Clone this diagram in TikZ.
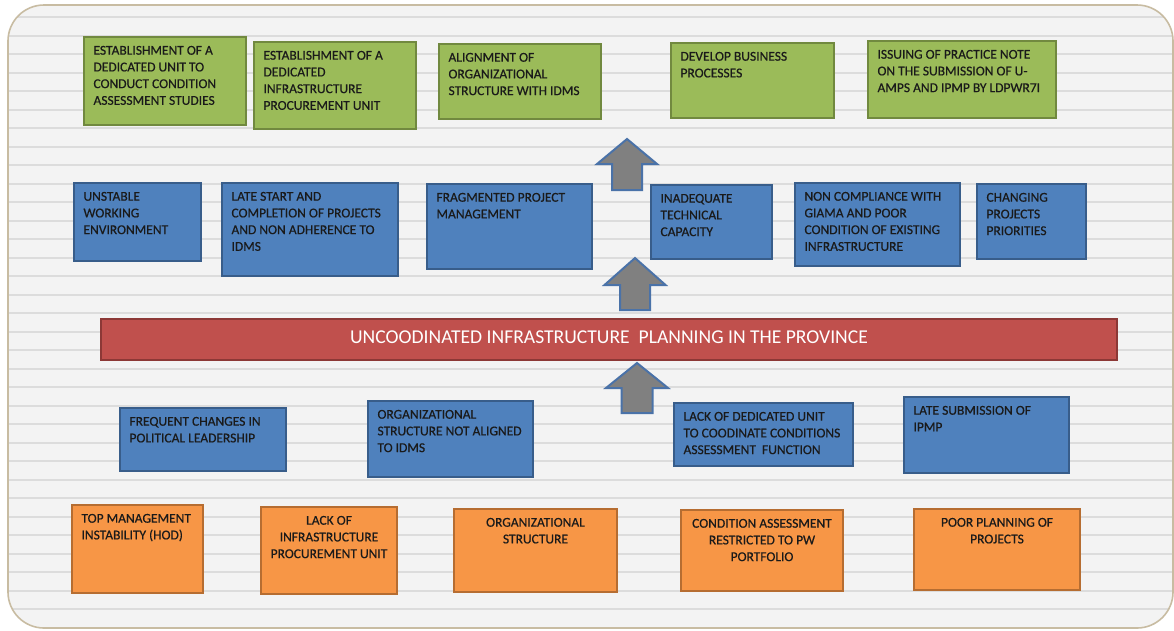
\documentclass[tikz,border=0pt]{standalone}
\usepackage{fontspec}
\setmainfont{Carlito}
\newfontfamily\cellfont{Carlito}[FakeBold=0.5]
\begin{document}
\definecolor{gfill}{HTML}{9BBB59}\definecolor{gline}{HTML}{71893F}
\definecolor{bfill}{HTML}{4F81BD}\definecolor{bline}{HTML}{385D8A}
\definecolor{ofill}{HTML}{F79646}\definecolor{oline}{HTML}{B66D31}
\definecolor{rfill}{HTML}{C0504D}\definecolor{rline}{HTML}{8C3836}
\definecolor{afill}{HTML}{808080}\definecolor{aline}{HTML}{4A72A8}
\definecolor{panel}{HTML}{F3F3F3}\definecolor{stripe}{HTML}{DCDCDC}
\definecolor{frame}{HTML}{C8BCA2}\definecolor{ink}{HTML}{1A1A1A}
\tikzset{
  cell/.style={draw, line width=2pt, inner sep=0pt, anchor=north west,
    font=\cellfont\fontsize{13.5}{16.7}\selectfont, text=ink},
  greenbox/.style={cell, fill=gfill, draw=gline},
  bluebox/.style={cell, fill=bfill, draw=bline},
  orangebox/.style={cell, fill=ofill, draw=oline},
  redbar/.style={draw=rline, fill=rfill, line width=2pt, inner sep=0pt,
    anchor=north west},
  bartext/.style={text=white, font=\fontsize{19.6}{22}\selectfont,
    anchor=base, inner sep=0pt},
  blockarrow/.style={draw=aline, fill=afill, line width=2pt, line join=miter},
  stripeline/.style={draw=stripe, line width=1.8pt},
}
% box with its text set from the top left corner; #1 name, #2 style,
% #3..#6 corners in pixels, #7 text
\newcommand{\cellbox}[7]{%
  \pgfmathsetmacro{\cellw}{#5-#3}%
  \pgfmathsetmacro{\cellh}{#6-#4}%
  \node[#2] (#1) at (#3,#4) {\parbox[c][\cellh pt][t]{\cellw pt}{%
      \raggedright\leftskip=9.5pt\rightskip=0pt plus 1fil\vspace*{6pt}\strut#7}};}
% upward block arrow: centre x, tip y, head base y, head half width,
% shaft half width, bottom y
\newcommand{\uparrowblock}[6]{%
  \draw[blockarrow] (#1,#2) -- (#1+#4,#3) -- (#1+#5,#3) -- (#1+#5,#6)
    -- (#1-#5,#6) -- (#1-#5,#3) -- (#1-#4,#3) -- cycle;}
\begin{tikzpicture}[x=1pt,y=-1pt]
\useasboundingbox (0,0) rectangle (1174,630);
\fill[white] (0,0) rectangle (1174,630);

% striped panel
\begin{scope}
  \clip[rounded corners=36pt] (8,5) rectangle (1173,628);
  \fill[panel] (0,0) rectangle (1174,630);
  \foreach \k in {0,...,32}
    \draw[stripeline] (0,17.3+18.5*\k) -- (1174,17.3+18.5*\k);
\end{scope}
\draw[frame, line width=1.6pt, rounded corners=36pt] (8,5) rectangle (1173,628);

% actions
\cellbox{g1}{greenbox}{83}{36}{245}{124}{ESTABLISHMENT OF A\\DEDICATED UNIT TO\\CONDUCT CONDITION\\ASSESSMENT STUDIES}
\cellbox{g2}{greenbox}{253}{41}{415}{128}{ESTABLISHMENT OF A\\DEDICATED\\INFRASTRUCTURE\\PROCUREMENT UNIT}
\cellbox{g3}{greenbox}{438}{43}{600}{118}{ALIGNMENT OF\\ORGANIZATIONAL\\STRUCTURE WITH IDMS}
\cellbox{g4}{greenbox}{670}{42}{833}{117}{DEVELOP BUSINESS\\PROCESSES}
\cellbox{g5}{greenbox}{867}{40}{1055}{117}{ISSUING OF PRACTICE NOTE\\ON THE SUBMISSION OF U-\\AMPS AND IPMP BY LDPWR7I}

% effects
\cellbox{e1}{bluebox}{73}{182}{200}{260}{UNSTABLE\\WORKING\\ENVIRONMENT}
\cellbox{e2}{bluebox}{221}{182}{397}{275}{LATE START AND\\COMPLETION OF PROJECTS\\AND NON ADHERENCE TO\\IDMS}
\cellbox{e3}{bluebox}{426}{183}{591}{268}{FRAGMENTED PROJECT\\MANAGEMENT}
\cellbox{e4}{bluebox}{650}{184}{771}{258}{INADEQUATE\\TECHNICAL\\CAPACITY}
\cellbox{e5}{bluebox}{794}{182}{959}{265}{NON COMPLIANCE WITH\\GIAMA AND POOR\\CONDITION OF EXISTING\\INFRASTRUCTURE}
\cellbox{e6}{bluebox}{976}{183}{1085}{258}{CHANGING\\PROJECTS\\PRIORITIES}

% core problem
\node[redbar, minimum width=1016pt, minimum height=41pt] (core) at (100,318) {};
\node[bartext] (coretext) at ([yshift=-3.5pt]core.center)
  {UNCOODINATED INFRASTRUCTURE\ \ PLANNING IN THE PROVINCE};

% causes
\cellbox{c1}{bluebox}{119}{407}{285}{470}{FREQUENT CHANGES IN\\POLITICAL LEADERSHIP}
\cellbox{c2}{bluebox}{367}{400}{532}{476}{ORGANIZATIONAL\\STRUCTURE NOT ALIGNED\\TO IDMS}
\cellbox{c3}{bluebox}{673}{402}{852}{465}{LACK OF DEDICATED UNIT\\TO COODINATE CONDITIONS\\ASSESSMENT\ \ FUNCTION}
\cellbox{c4}{bluebox}{903}{396}{1068}{472}{LATE SUBMISSION OF\\IPMP}

% root causes
\cellbox{r1}{orangebox}{71}{504}{202}{592}{TOP MANAGEMENT\\INSTABILITY (HOD)}
\cellbox{r2}{orangebox}{260}{506}{396}{593}{\centering LACK OF\\INFRASTRUCTURE\\PROCUREMENT UNIT}
\cellbox{r3}{orangebox}{453}{508}{616}{591}{\centering ORGANIZATIONAL\\STRUCTURE}
\cellbox{r4}{orangebox}{680}{509}{842}{590}{\centering CONDITION ASSESSMENT\\RESTRICTED TO PW\\PORTFOLIO}
\cellbox{r5}{orangebox}{913}{508}{1079}{589}{\centering POOR PLANNING OF\\PROJECTS}

% upward arrows
\uparrowblock{627}{139}{164}{30}{15}{190}
\uparrowblock{635}{258}{285}{30.5}{15}{310}
\uparrowblock{637}{363}{388}{31}{15.5}{413}
\end{tikzpicture}
\end{document}
